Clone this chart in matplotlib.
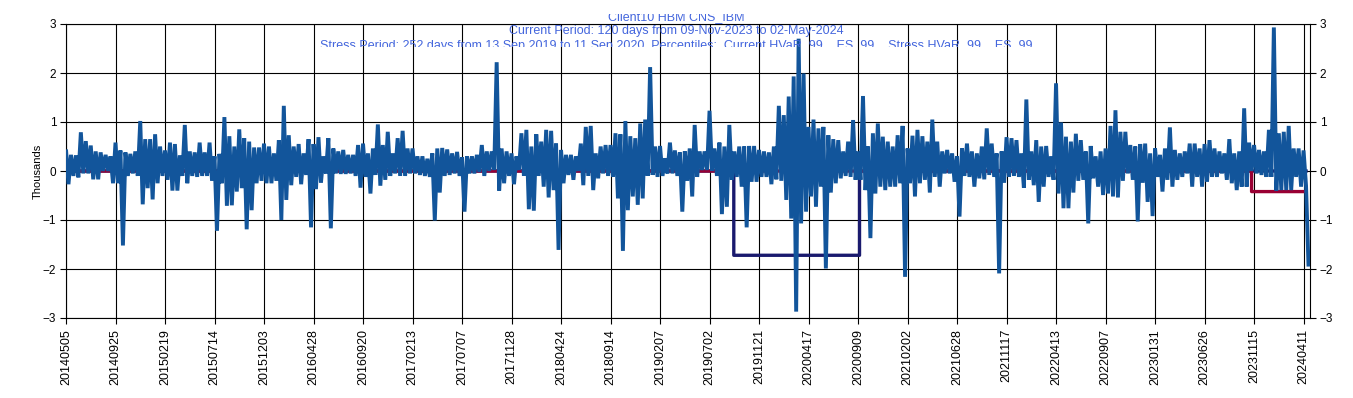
import matplotlib
matplotlib.use('Agg')
import matplotlib.pyplot as plt
import numpy as np
from matplotlib.transforms import Bbox

plt.rcParams['font.family'] = ['Liberation Sans', 'DejaVu Sans']

pnl_2014_2015 = [
    0.44, -0.27, 0.33, -0.10, 0.32, -0.13, 0.79, -0.05, 0.61, -0.05, 0.52, -0.17, 0.40, -0.17, 0.38, 0.00, 0.33, 0.00, 0.30, -0.25,
    0.58, -0.25, 0.42, -1.52, 0.38, -0.10, 0.35, -0.05, 0.40, -0.10, 1.02, -0.68, 0.65, -0.35, 0.65, -0.58, 0.75, -0.25, 0.50, -0.10,
    0.42, -0.18, 0.58, -0.40, 0.55, -0.40, 0.32, -0.10, 0.94, -0.25, 0.40, -0.10, 0.38, -0.12, 0.58, -0.10, 0.38, -0.10, 0.58, -0.20,
    0.30, -1.22, 0.35, -0.25, 1.10, -0.71, 0.71, -0.70, 0.50, -0.42, 0.85, -0.35, 0.67, -1.19, 0.60, -0.80, 0.48, -0.25, 0.48, -0.20,
    0.56, -0.25, 0.50, -0.25,
]
pnl_2016_2017 = [
    0.36, -0.20, 0.63, -1.00, 1.33, -0.59, 0.73, -0.29, 0.50, -0.12, 0.55, -0.27, 0.36, -0.08, 0.65, -1.15, 0.55, -0.37, 0.69, -0.24,
    0.30, -0.05, 0.67, -1.17, 0.46, -0.05, 0.40, -0.06, 0.43, -0.06, 0.33, -0.05, 0.33, -0.10, 0.53, -0.34, 0.56, -0.12, 0.36, -0.46,
    0.46, -0.08, 0.95, -0.30, 0.53, -0.18, 0.80, -0.10, 0.36, -0.05, 0.67, -0.10, 0.82, -0.10, 0.46, -0.05, 0.46, -0.05, 0.30, -0.08,
    0.30, -0.10, 0.25, -0.12, 0.36, -1.01, 0.46, -0.44, 0.47, -0.10, 0.44, -0.08, 0.36, -0.05, 0.39, -0.10, 0.28, -0.83, 0.30, -0.05,
    0.30, -0.05, 0.33, -0.02, 0.53, -0.10,
]
pnl_2017_2019 = [
    0.40, 0.00, 0.40, 0.02, 2.22, -0.40, 0.46, -0.25, 0.40, -0.10, 0.36, -0.27, 0.30, 0.02, 0.77, -0.10, 0.84, -0.78, 0.50, -0.81,
    0.75, -0.10, 0.60, -0.32, 0.84, -0.54, 0.82, -0.39, 0.56, -1.61, 0.43, -0.25, 0.33, -0.08, 0.33, -0.18, 0.30, 0.00, 0.56, -0.29,
    0.90, -0.10, 0.92, -0.39, 0.36, -0.15, 0.50, -0.05, 0.53, -0.10, 0.53, -0.12, 0.77, -0.56, 0.75, -1.63, 1.02, -0.80, 0.71, -0.52,
    0.67, -0.69, 0.97, -0.56, 1.05, -0.10, 2.12, -0.08, 0.50, -0.12, 0.51, -0.10, 0.26, -0.05, 0.58, -0.05, 0.42, -0.10, 0.38, -0.83,
    0.40, -0.20, 0.46, -0.52,
]
pnl_2019_2021 = [
    0.94, -0.12, 0.40, 0.02, 0.40, 0.02, 1.23, 0.00, 0.46, -0.10, 0.58, -0.88, 0.50, -0.73, 0.94, -0.18, 0.40, -0.12, 0.50, -0.32,
    0.50, -1.15, 0.51, -0.22, 0.51, -0.22, 0.43, -0.12, 0.40, -0.12, 0.38, -0.27, 0.50, -0.17, 1.33, -0.20, 1.14, -0.59, 1.52, -0.97,
    1.93, -2.87, 2.70, -1.07, 1.99, -0.83, 0.90, -0.52, 1.05, -0.73, 0.87, -0.32, 0.90, -1.99, 0.73, -0.44, 0.65, -0.25, 0.63, -0.15,
    0.40, -0.10, 0.60, -0.12, 1.04, -0.18, 0.40, -0.18, 1.53, -0.39, 0.50, -1.37, 0.77, -0.46, 0.97, -0.32, 0.70, -0.39, 0.60, -0.32,
    0.50, -0.32, 0.73, -0.25, 0.92, -2.16,
]
pnl_2021_2022 = [
    0.46, -0.25, 0.72, -0.52, 0.84, -0.25, 0.71, -0.18, 0.60, -0.44, 1.05, -0.12, 0.60, -0.32, 0.40, -0.05, 0.43, -0.05, 0.36, -0.22,
    0.30, -0.93, 0.46, -0.10, 0.56, -0.12, 0.40, -0.32, 0.36, -0.15, 0.50, -0.17, 0.87, -0.08, 0.56, -0.12, 0.36, -2.09, 0.40, -0.24,
    0.69, -0.12, 0.67, -0.10, 0.63, -0.12, 0.36, -0.34, 1.46, -0.18, 0.40, -0.29, 0.63, -0.63, 0.50, -0.32, 0.51, -0.12, 0.30, -0.18,
    1.79, -0.46, 0.99, -0.76, 0.70, -0.76, 0.60, -0.44, 0.76, -0.20, 0.63, -0.18, 0.40, -1.07, 0.51, -0.15, 0.30, -0.32, 0.40, -0.49,
    0.46, -0.46, 0.92, -0.52,
]
pnl_2022_2024 = [
    1.24, -0.54, 0.80, -0.20, 0.80, -0.05, 0.53, -0.18, 0.50, -1.03, 0.55, -0.24, 0.56, -0.63, 0.36, -0.92, 0.46, -0.12, 0.33, -0.42,
    0.46, -0.18, 0.89, -0.32, 0.43, -0.18, 0.36, -0.12, 0.40, -0.05, 0.56, -0.32, 0.56, -0.12, 0.46, -0.32, 0.55, -0.22, 0.63, -0.12,
    0.46, -0.12, 0.40, -0.05, 0.36, -0.18, 0.65, -0.25, 0.36, -0.39, 0.40, -0.32, 1.28, -0.32, 0.58, 0.00, 0.53, -0.05, 0.43, -0.08,
    0.40, -0.12, 0.84, -0.12, 2.93, -0.40, 0.77, -0.39, 0.80, -0.39, 0.92, -0.39, 0.46, -0.12, 0.46, -0.32, 0.42, -0.30,
    -1.95,
]
sample_step = 5  # trading days between readings

tick_labels = ['20140505', '20140925', '20150219', '20150714', '20151203', '20160428', '20160920',
               '20170213', '20170707', '20171128', '20180424', '20180914', '20190207', '20190702',
               '20191121', '20200417', '20200909', '20210202', '20210628', '20211117', '20220413',
               '20220907', '20230131', '20230626', '20231115', '20240411']
tick_every = 100

# current period: 120 days 09-Nov-2023 .. 02-May-2024 ; stress period 252 days 13-Sep-2019 .. 11-Sep-2020
current_start, current_end, current_hvar = 2395, 2505, -0.42
stress_start, stress_end, stress_hvar = 1349, 1602, -1.72

title_1 = 'Client10 HBM CNS_IBM'
title_2 = 'Current Period: 120 days from 09-Nov-2023 to 02-May-2024'
title_3 = ('Stress Period: 252 days from 13 Sep 2019 to 11 Sep 2020. Percentiles:  '
           'Current HVaR_99  , ES_99  , Stress HVaR_99  , ES_99')

pnl = np.array(pnl_2014_2015 + pnl_2016_2017 + pnl_2017_2019 + pnl_2019_2021 + pnl_2021_2022 + pnl_2022_2024)
days = np.arange(len(pnl)) * sample_step

all_days = np.arange(0, current_end + 1)
current_line = np.where(all_days >= current_start, current_hvar, 0.0)
stress_line = np.where((all_days >= stress_start) & (all_days <= stress_end), stress_hvar, 0.0)

W, H = 1353, 398
fig = plt.figure(figsize=(W / 100, H / 100), dpi=100)
ax = fig.add_axes([66 / W, 80 / H, 1244 / W, 294 / H])

ax.plot(all_days, stress_line, color='#1a1a6e', lw=2.4, drawstyle='steps-post', zorder=3)
ax.plot(all_days, current_line, color='#990033', lw=2.4, drawstyle='steps-post', zorder=3)
ax.plot(days, pnl, color='#12559b', lw=2.8, solid_joinstyle='miter', solid_capstyle='butt', zorder=4)

ax.set_xlim(0, 2513)
ax.set_ylim(-3, 3)
ax.set_yticks(range(-3, 4))
ax.set_xticks(np.arange(len(tick_labels)) * tick_every)
ax.set_xticklabels(tick_labels, rotation=90, fontsize=9)
ax.tick_params(axis='y', labelsize=8.5, right=True, labelright=True, length=4, width=0.8, pad=3)
ax.tick_params(axis='x', length=4, width=0.8, pad=4)
ax.grid(True, color='black', lw=0.8)
ax.set_axisbelow(True)
for s in ax.spines.values():
    s.set_linewidth(0.8)
ax.set_ylabel('Thousands', fontsize=8, labelpad=0)

tc = '#4466dd'
cx = 676 / W
t1 = fig.text(cx, 1 - 20 / H, title_1, ha='center', va='baseline', fontsize=9, color=tc)
t1.set_clip_box(Bbox.from_extents(0, 0, W, H - 14))
t1.set_clip_on(True)
fig.text(cx, 1 - 34 / H, title_2, ha='center', va='baseline', fontsize=9, color=tc)
t3 = fig.text(cx, 1 - 49 / H, title_3, ha='center', va='baseline', fontsize=9, color=tc)
t3.set_clip_box(Bbox.from_extents(0, H - 47, W, H))
t3.set_clip_on(True)

fig.savefig('out.png', dpi=100)
